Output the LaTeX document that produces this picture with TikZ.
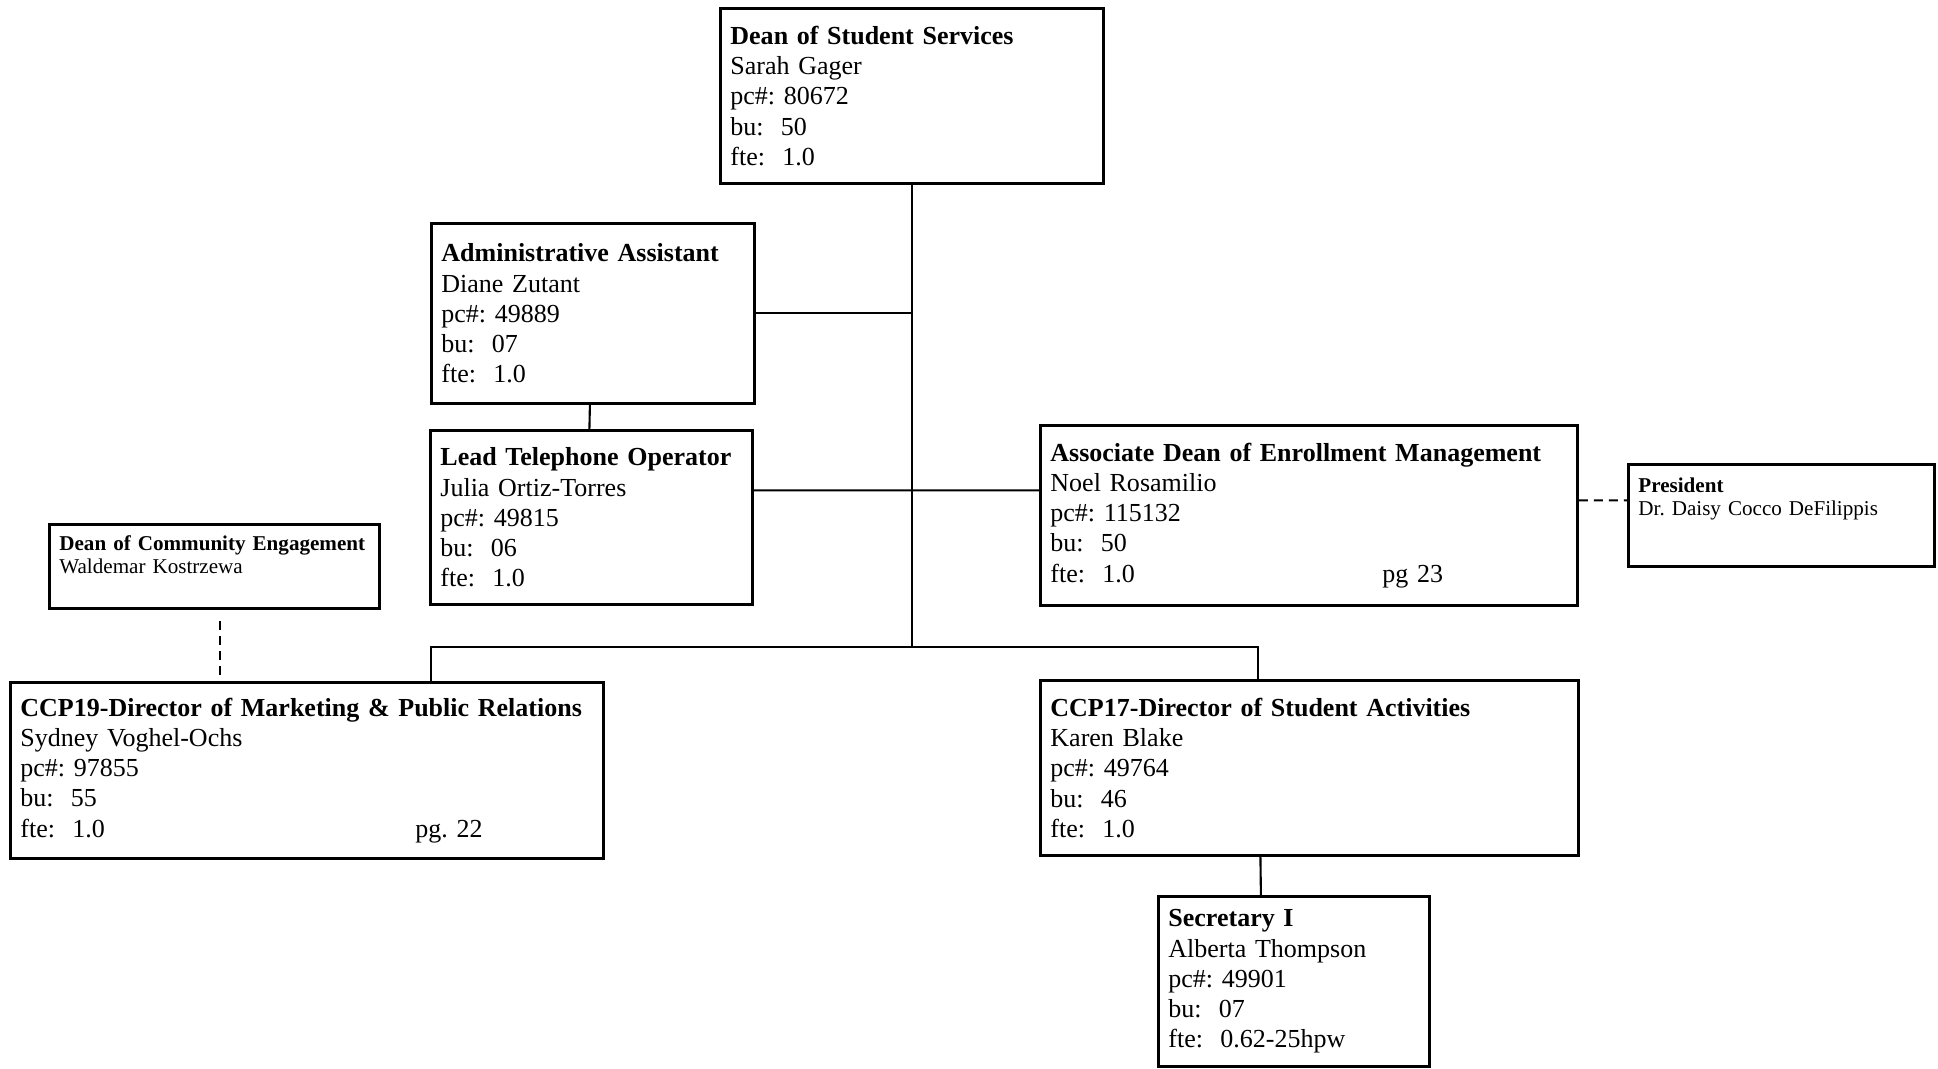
\documentclass[tikz,border=0pt]{standalone}
\usepackage{fontspec}
\setmainfont{Liberation Serif}
\frenchspacing
\newcommand{\boxfont}{\fontsize{7.4pt}{8.6pt}\selectfont}
\newcommand{\smallboxfont}{\fontsize{6pt}{6.6pt}\selectfont}
\begin{document}
\begin{tikzpicture}[line width=0.6pt, unit/.style = {draw, line width=0.8pt, anchor=north west, align=left, inner xsep=0.1cm, inner ysep=0pt, font=\boxfont}, small/.style = {unit, font=\smallboxfont}, link/.style = {dash pattern=on 0.09cm off 0.06cm}]
	\useasboundingbox (0,0) rectangle (19.38,-10.69);

	\node[unit, text width=3.63cm, minimum height=1.75cm] (dss) at (7.19,-0.07) {\textbf{Dean of Student Services}\\Sarah Gager\\pc\#: 80672\\bu:\ \ 50\\fte:\ \ 1.0};
	\node[unit, text width=3.03cm, minimum height=1.80cm] (admin) at (4.30,-2.22) {\textbf{Administrative Assistant}\\Diane Zutant\\pc\#: 49889\\bu:\ \ 07\\fte:\ \ 1.0};
	\node[unit, text width=3.02cm, minimum height=1.74cm] (lead) at (4.29,-4.29) {\textbf{Lead Telephone Operator}\\Julia Ortiz-Torres\\pc\#: 49815\\bu:\ \ 06\\fte:\ \ 1.0};
	\node[unit, text width=5.17cm, minimum height=1.80cm] (assoc) at (10.39,-4.24) {\textbf{Associate Dean of Enrollment Management}\\Noel Rosamilio\\pc\#: 115132\\bu:\ \ 50\\\makebox[3.32cm][l]{fte:\ \ 1.0}pg 23};
	\node[small, text width=2.86cm, minimum height=1.02cm] (pres) at (16.27,-4.63) {\textbf{President}\\Dr. Daisy Cocco DeFilippis\\\rule{0pt}{0.3cm}};
	\node[small, text width=3.10cm, minimum height=0.84cm] (comm) at (0.48,-5.23) {\textbf{Dean of Community Engagement}\\Waldemar Kostrzewa\\\rule{0pt}{0.12cm}};
	\node[unit, text width=5.73cm, minimum height=1.76cm] (ccp19) at (0.09,-6.81) {\textbf{CCP19-Director of Marketing \& Public Relations}\\Sydney Voghel-Ochs\\pc\#: 97855\\bu:\ \ 55\\\makebox[3.95cm][l]{fte:\ \ 1.0}pg. 22};
	\node[unit, text width=5.18cm, minimum height=1.75cm] (ccp17) at (10.39,-6.79) {\textbf{CCP17-Director of Student Activities}\\Karen Blake\\pc\#: 49764\\bu:\ \ 46\\fte:\ \ 1.0};
	\node[unit, text width=2.51cm, minimum height=1.70cm] (sec) at (11.57,-8.95) {\textbf{Secretary I}\\Alberta Thompson\\pc\#: 49901\\bu:\ \ 07\\fte:\ \ 0.62-25hpw};

	\coordinate (bus) at ([yshift=-4.62cm]dss.south);

		\draw (dss.south) -- (bus);
		\draw (admin.east) -- (admin.east -| dss.south);
		\draw ([xshift=-0.03cm]admin.south) -- ([xshift=-0.02cm]lead.north);
		\draw ([yshift=0.27cm]lead.east) -- ([yshift=0.25cm]assoc.west);
		\draw ([xshift=1.24cm]ccp19.north) |- (bus) -| ([xshift=-0.51cm]ccp17.north);
		\draw ([xshift=-0.49cm]ccp17.south) -- ([xshift=-0.33cm]sec.north);
		\draw[link] ([yshift=0.15cm]assoc.east) -- ([yshift=0.15cm]pres.west);
		\draw[link] ([xshift=0.06cm,yshift=-0.11cm]comm.south) -- ([xshift=0.06cm]comm.south |- ccp19.north);

	\end{tikzpicture}
\end{document}
